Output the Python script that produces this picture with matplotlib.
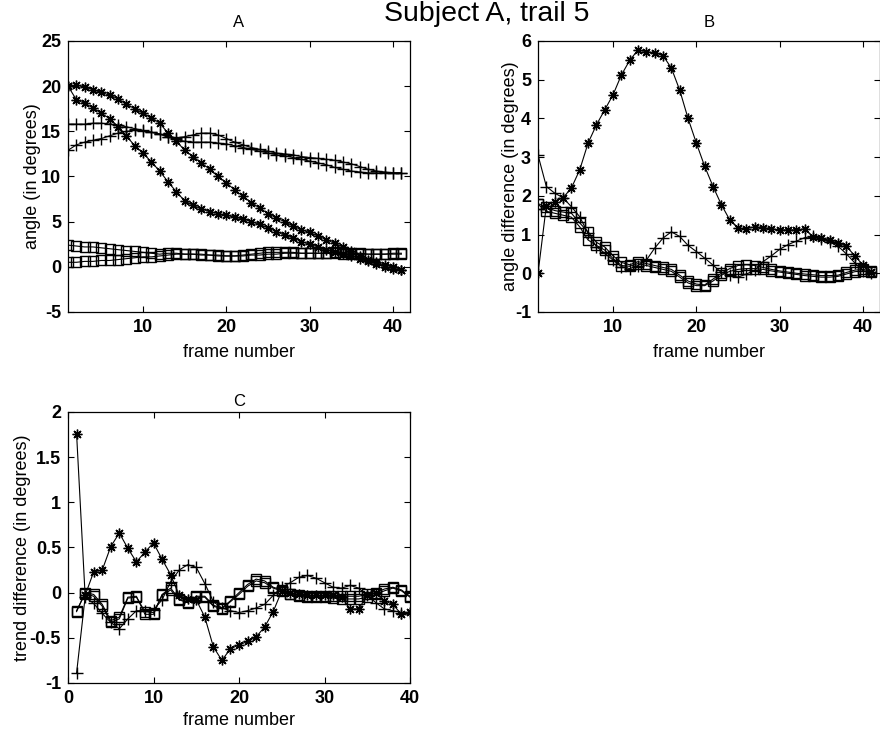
import matplotlib
matplotlib.use("Agg")
import matplotlib.pyplot as plt
import numpy as np

plt.rcParams['font.family'] = ['Liberation Sans', 'DejaVu Sans']
plt.rcParams['axes.unicode_minus'] = False

# ---------------- data ----------------
frames_ab = list(range(1, 42))
frames_c = list(range(1, 41))

A_star1 = [20.0, 20.1, 19.9, 19.6, 19.3, 19.0, 18.6, 18.0, 17.5, 17.0, 16.5, 15.9, 14.8, 13.9,
           12.9, 12.2, 11.5, 10.8, 10.0, 9.3, 8.5, 7.8, 7.1, 6.5, 5.9, 5.4, 5.0, 4.5, 4.1, 3.8,
           3.4, 3.0, 2.6, 2.2, 1.7, 1.2, 0.8, 0.5, 0.2, 0.0, -0.3]
A_star2 = [20.0, 18.5, 18.1, 17.6, 17.0, 16.4, 15.5, 14.5, 13.4, 12.6, 11.6, 10.6, 9.4, 8.3,
           7.3, 6.8, 6.4, 6.1, 5.9, 5.7, 5.5, 5.3, 5.0, 4.7, 4.3, 3.9, 3.5, 3.2, 2.8, 2.5,
           2.2, 1.9, 1.6, 1.4, 1.2, 0.9, 0.6, 0.3, 0.0, -0.2, -0.4]
A_plus1 = [15.8, 15.8, 15.8, 15.9, 15.9, 15.8, 15.7, 15.5, 15.3, 15.1, 14.9, 14.7, 14.4, 14.1,
           13.9, 13.8, 13.8, 13.8, 13.7, 13.6, 13.4, 13.2, 13.0, 12.8, 12.6, 12.4, 12.3, 12.1,
           11.9, 11.7, 11.5, 11.3, 11.0, 10.8, 10.6, 10.5, 10.4, 10.4, 10.4, 10.4, 10.4]
A_plus2 = [12.9, 13.5, 13.8, 14.0, 14.2, 14.5, 14.8, 15.0, 15.1, 15.0, 14.9, 14.7, 14.4, 14.3,
           14.4, 14.6, 14.8, 14.8, 14.6, 14.2, 13.8, 13.5, 13.2, 13.0, 12.8, 12.6, 12.5, 12.4,
           12.2, 12.1, 12.0, 11.9, 11.8, 11.6, 11.4, 11.1, 10.8, 10.6, 10.5, 10.4, 10.4]
A_sq1 = [2.4, 2.3, 2.2, 2.2, 2.1, 2.0, 1.9, 1.8, 1.7, 1.6, 1.5, 1.4, 1.5, 1.5, 1.4, 1.4, 1.3,
         1.3, 1.2, 1.2, 1.2, 1.3, 1.4, 1.5, 1.6, 1.6, 1.6, 1.6, 1.5, 1.5, 1.5, 1.5, 1.5, 1.4,
         1.4, 1.4, 1.4, 1.4, 1.4, 1.5, 1.5]
A_sq2 = [0.5, 0.5, 0.6, 0.6, 0.7, 0.7, 0.8, 0.9, 1.0, 1.1, 1.1, 1.2, 1.3, 1.4, 1.4, 1.4, 1.4,
         1.3, 1.3, 1.2, 1.2, 1.2, 1.3, 1.3, 1.4, 1.4, 1.5, 1.5, 1.5, 1.5, 1.5, 1.5, 1.6, 1.6,
         1.5, 1.5, 1.4, 1.4, 1.4, 1.4, 1.4]

B_star = [0.0, 1.75, 1.85, 1.95, 2.2, 2.67, 3.36, 3.83, 4.22, 4.61, 5.12, 5.5, 5.77, 5.72,
          5.7, 5.62, 5.3, 4.73, 4.0, 3.36, 2.76, 2.24, 1.77, 1.38, 1.17, 1.15, 1.2, 1.18, 1.15,
          1.12, 1.12, 1.12, 1.15, 0.94, 0.9, 0.85, 0.78, 0.7, 0.45, 0.21, 0.02]
B_plus = [3.05, 2.24, 2.07, 1.95, 1.72, 1.46, 1.03, 0.69, 0.52, 0.34, 0.17, 0.12, 0.2, 0.34,
          0.65, 0.91, 1.07, 0.95, 0.72, 0.56, 0.39, 0.21, 0.02, -0.05, -0.1, -0.02, 0.08, 0.3,
          0.45, 0.62, 0.74, 0.83, 0.92, 0.95, 0.88, 0.8, 0.7, 0.5, 0.27, 0.06, 0.0]
B_sq1 = [1.8, 1.7, 1.62, 1.58, 1.55, 1.3, 1.07, 0.8, 0.68, 0.45, 0.28, 0.22, 0.3, 0.25, 0.2,
         0.15, 0.1, -0.05, -0.2, -0.28, -0.3, -0.15, 0.0, 0.12, 0.2, 0.22, 0.2, 0.15, 0.1,
         0.06, 0.03, 0.0, -0.02, -0.04, -0.06, -0.06, -0.05, 0.02, 0.08, 0.1, 0.05]
B_sq2 = [1.78, 1.6, 1.55, 1.5, 1.45, 1.2, 0.86, 0.72, 0.6, 0.38, 0.2, 0.18, 0.25, 0.2, 0.15,
         0.1, 0.05, -0.1, -0.25, -0.32, -0.32, -0.2, -0.05, 0.05, 0.1, 0.12, 0.12, 0.1, 0.06,
         0.03, 0.0, -0.03, -0.06, -0.08, -0.1, -0.1, -0.08, -0.02, 0.04, 0.06, 0.02]

C_star = [1.76, -0.03, 0.23, 0.25, 0.51, 0.66, 0.49, 0.34, 0.45, 0.55, 0.37, 0.2, -0.03, -0.07,
          -0.08, -0.27, -0.6, -0.75, -0.62, -0.58, -0.54, -0.49, -0.38, -0.21, 0.02, 0.0, -0.02,
          -0.03, -0.03, -0.03, -0.03, -0.05, -0.18, -0.18, -0.03, 0.0, -0.09, -0.13, -0.24, -0.21]
C_plus = [-0.89, -0.05, -0.12, -0.23, -0.33, -0.40, -0.29, -0.2, -0.2, -0.19, -0.08, 0.12, 0.25,
          0.31, 0.28, 0.1, -0.1, -0.17, -0.2, -0.22, -0.2, -0.17, -0.13, -0.03, 0.06, 0.11,
          0.17, 0.19, 0.16, 0.11, 0.06, 0.05, 0.08, 0.05, -0.03, -0.11, -0.18, -0.2, -0.22, -0.22]
C_sq1 = [-0.21, 0.0, -0.02, -0.13, -0.31, -0.27, -0.05, -0.04, -0.24, -0.24, -0.02, 0.05, -0.07,
         -0.1, -0.04, -0.04, -0.14, -0.17, -0.09, 0.0, 0.09, 0.15, 0.13, 0.06, 0.03, -0.01,
         -0.03, -0.04, -0.04, -0.04, -0.04, -0.04, -0.04, -0.04, -0.02, 0.0, 0.04, 0.06, 0.03, -0.04]
C_sq2 = [-0.2, -0.01, -0.04, -0.15, -0.33, -0.29, -0.06, -0.05, -0.21, -0.22, -0.03, 0.03, -0.08,
         -0.11, -0.05, -0.05, -0.15, -0.18, -0.1, -0.02, 0.07, 0.13, 0.11, 0.05, 0.02, -0.02,
         -0.04, -0.05, -0.05, -0.05, -0.06, -0.07, -0.07, -0.07, -0.05, -0.02, 0.02, 0.05, 0.02, -0.05]

A_yticks = [-5, 0, 5, 10, 15, 20, 25]
B_yticks = [-1, 0, 1, 2, 3, 4, 5, 6]
C_yticks = [-1, -0.5, 0, 0.5, 1, 1.5, 2]
C_yticklabels = ['-1', '-0.5', '0', '0.5', '1', '1.5', '2']
AB_xticks = [10, 20, 30, 40]
C_xticks = [0, 10, 20, 30, 40]

# ---------------- styling ----------------
STAR = (8, 2, 0)
LW = 0.8
MS = 7
common = dict(color='black', linewidth=LW, markeredgewidth=1.0, markerfacecolor='none',
              markeredgecolor='black')
LABELSIZE = 13

fig = plt.figure(figsize=(8.8, 7.37), dpi=100)
fig.text(0.553, 0.9715, 'Subject A, trail 5', ha='center', va='baseline', fontsize=20.5)


def style(ax):
    ax.tick_params(direction='in', top=True, right=True, length=4, width=0.8, pad=5)
    for s in ax.spines.values():
        s.set_linewidth(0.9)
    for lab in ax.get_xticklabels() + ax.get_yticklabels():
        lab.set_fontsize(13)
        lab.set_fontweight('bold')


def plot_group(ax, x, stars, pluses, squares):
    for s in stars:
        ax.plot(x, s, marker=STAR, markersize=MS, **common)
    for p in pluses:
        ax.plot(x, p, marker='+', markersize=MS + 1, **common)
    for q in squares:
        ax.plot(x, q, marker='s', markersize=MS - 0.5, **common)


# Panel A
axA = fig.add_axes([0.0773, 0.5767, 0.3883, 0.3677])
plot_group(axA, frames_ab, [A_star1, A_star2], [A_plus1, A_plus2], [A_sq1, A_sq2])
axA.set_xlim(1, 42)
axA.set_ylim(-5, 25)
axA.set_xticks(AB_xticks)
axA.set_yticks(A_yticks)
axA.set_xlabel('frame number', fontsize=LABELSIZE, labelpad=6)
axA.set_ylabel('angle (in degrees)', fontsize=LABELSIZE, labelpad=0)
axA.set_title('A', fontsize=12, pad=10)
style(axA)

# Panel B
axB = fig.add_axes([0.6114, 0.5767, 0.3883, 0.3677])
plot_group(axB, frames_ab, [B_star], [B_plus], [B_sq1, B_sq2])
axB.set_xlim(1, 42)
axB.set_ylim(-1, 6)
axB.set_xticks(AB_xticks)
axB.set_yticks(B_yticks)
axB.set_xlabel('frame number', fontsize=LABELSIZE, labelpad=6)
axB.set_ylabel('angle difference (in degrees)', fontsize=LABELSIZE, labelpad=-3)
axB.set_title('B', fontsize=12, pad=10)
style(axB)

# Panel C
axC = fig.add_axes([0.0773, 0.0733, 0.3886, 0.3677])
plot_group(axC, frames_c, [C_star], [C_plus], [C_sq1, C_sq2])
axC.set_xlim(0, 40)
axC.set_ylim(-1, 2)
axC.set_xticks(C_xticks)
axC.set_yticks(C_yticks)
axC.set_yticklabels(C_yticklabels)
axC.set_xlabel('frame number', fontsize=LABELSIZE, labelpad=4)
axC.set_ylabel('trend difference (in degrees)', fontsize=LABELSIZE, labelpad=-1)
axC.set_title('C', fontsize=12, pad=4)
style(axC)

fig.savefig('out.png', dpi=100)
